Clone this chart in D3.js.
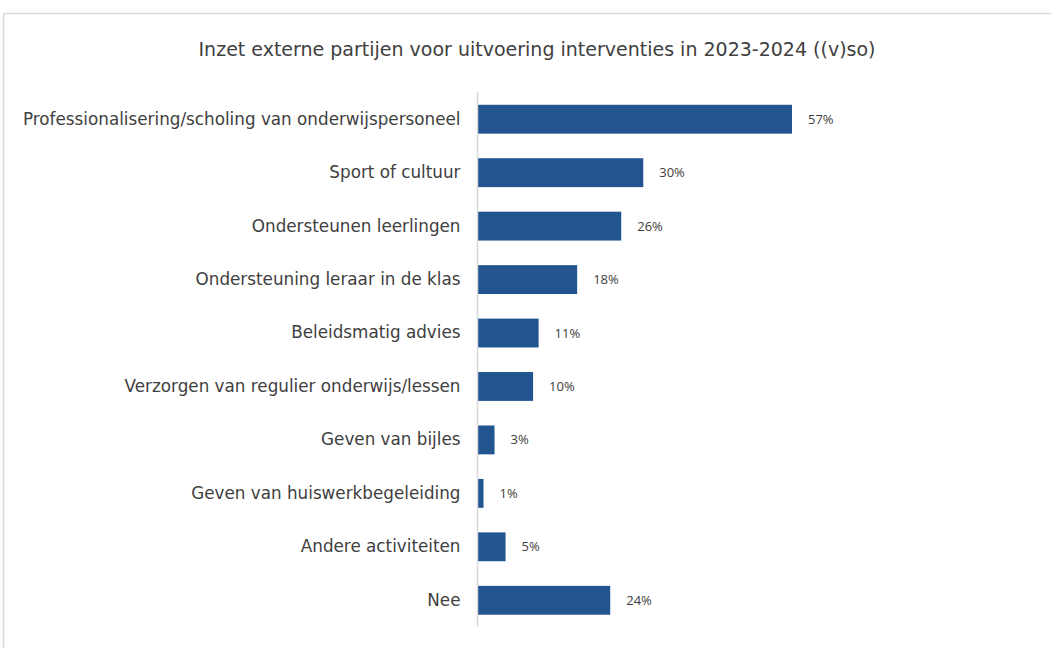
<!DOCTYPE html>
<html>
<head>
<meta charset="utf-8">
<script src="https://cdn.jsdelivr.net/npm/d3@7"></script>
<style>
  body { margin: 0; background: #fff; }
  svg { display: block; }
</style>
</head>
<body>
<div id="chart"></div>
<script>
// categories and values (percent)
var categories = [
  "Professionalisering/scholing van onderwijspersoneel",
  "Sport of cultuur",
  "Ondersteunen leerlingen",
  "Ondersteuning leraar in de klas",
  "Beleidsmatig advies",
  "Verzorgen van regulier onderwijs/lessen",
  "Geven van bijles",
  "Geven van huiswerkbegeleiding",
  "Andere activiteiten",
  "Nee"
];
var values = [57, 30, 26, 18, 11, 10, 3, 1, 5, 24];
var chartTitle = "Inzet externe partijen voor uitvoering interventies in 2023-2024 ((v)so)";

var width = 1051, height = 648;

var svg = d3.select("#chart").append("svg")
  .attr("width", width)
  .attr("height", height);

// outer frame (only top and left visible in the reference)
svg.append("path")
  .attr("d", "M3.5," + height + "V13.5H" + width)
  .attr("fill", "none")
  .attr("stroke", "#d9d9d9")
  .attr("stroke-width", 1.5);

svg.append("text")
  .attr("x", 537)
  .attr("y", 56)
  .attr("text-anchor", "middle")
  .attr("font-family", "'DejaVu Sans', sans-serif")
  .attr("font-size", 19)
  .attr("fill", "#404040")
  .text(chartTitle);

var x = d3.scaleLinear().domain([0, 57]).range([478, 792]);
var y = d3.scaleBand().domain(categories).range([92.5, 627]).paddingInner(0.46).paddingOuter(0.23);

// bars
svg.selectAll(".bar")
  .data(values)
  .enter().append("rect")
  .attr("class", "bar")
  .attr("x", x(0))
  .attr("y", function(d, i) { return y(categories[i]); })
  .attr("width", function(d) { return x(d) - x(0); })
  .attr("height", y.bandwidth())
  .attr("fill", "#225590");

// category axis
var yAxis = svg.append("g")
  .attr("transform", "translate(" + (x(0) - 0.5) + ",0)")
  .call(d3.axisLeft(y).tickSize(0).tickPadding(17));
yAxis.select(".domain").attr("stroke", "#d9d9d9").attr("stroke-width", 1.5)
  .attr("d", "M0,92V627");
yAxis.selectAll("text")
  .attr("font-family", "'DejaVu Sans', sans-serif")
  .attr("font-size", 16.8)
  .attr("fill", "#404040");

// value labels
svg.selectAll(".val")
  .data(values)
  .enter().append("text")
  .attr("class", "val")
  .attr("x", function(d) { return x(d) + 16; })
  .attr("y", function(d, i) { return y(categories[i]) + y.bandwidth() / 2; })
  .attr("dy", "0.35em")
  .attr("font-family", "'Liberation Sans Narrow', 'Open Sans', sans-serif")
  .attr("font-size", 13)
  .attr("fill", "#404040")
  .text(function(d) { return d + "%"; });
</script>
</body>
</html>
